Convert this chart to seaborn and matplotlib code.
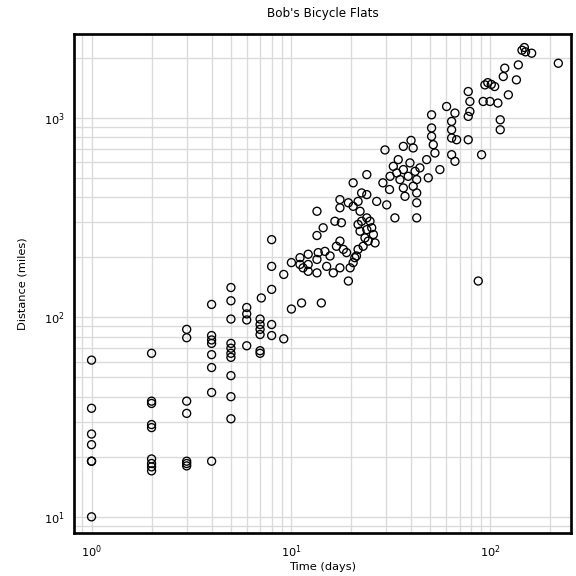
import numpy as np
import pandas as pd
import matplotlib
matplotlib.use("Agg")
import matplotlib.pyplot as plt
import seaborn as sns
from matplotlib.ticker import LogLocator

# ---- data ----
days_small = ([1]*7 + [2]*9 + [3]*7 + [4]*8 + [5]*10 + [6]*4 + [7]*6 + [7.1]
              + [8]*5 + [9.2]*2)
miles_small = ([61, 35, 26, 23, 19, 19, 10]
               + [66, 38, 37, 29, 28, 19.5, 18.5, 17.8, 17]
               + [87, 79, 38, 33, 19, 18.5, 18]
               + [116, 81, 77, 74, 65, 56, 42, 19]
               + [141, 121, 98, 74, 70, 66, 63, 51, 40, 31]
               + [112, 104, 97, 72]
               + [98, 92, 87, 82, 68, 66] + [125]
               + [245, 180, 138, 92, 81]
               + [164, 78])

days_mid = [10.05, 11.3, 14.2,
            10.05, 11.1, 12.2, 11.1, 12.2, 13.5, 13.7, 14.8, 15.7, 16.9, 17.6,
            18.3, 19.0, 13.5, 12.2, 15.1, 16.3, 17.6, 11.5,
            13.5, 14.5, 16.6, 17.9, 13.5, 19.4,
            21.7, 22.6, 24, 24.9, 25.4, 24, 22.2, 25.9, 26.4, 24.4, 23, 21.7,
            21.3, 20.5, 19.8, 20.9, 23.5,
            17.6, 17.6, 19.4, 20.5, 21.7, 22.6, 24, 22.2, 26.9, 30.2, 33.2,
            42.7, 20.5, 24, 28.9, 31.2, 29.6]
miles_mid = [110, 118, 118,
             188, 199, 207, 184, 184, 195, 211, 214, 203, 227, 241,
             219, 211, 167, 170, 180, 167, 177, 177,
             257, 281, 303, 298, 340, 152,
             292, 303, 315, 303, 281, 275, 270, 260, 236, 241, 227, 219,
             203, 188, 177, 199, 250,
             389, 354, 375, 360, 381, 420, 412, 340, 381, 366, 315,
             315, 472, 519, 472, 437, 690]

days_high = [32.6, 34.5, 36.6, 39.5, 41.9, 44.3, 35.2, 36.6, 37.3, 41, 48.8,
             55.8, 47.9, 33.9, 38.7, 42.7, 31.4, 42.7, 42.7,
             36.6, 40, 41, 50.7, 50.7, 50.7, 51.7, 52.7, 60.3, 63.9, 63.9,
             63.9, 66.4, 67.7, 77.4, 63.9, 66.4, 77.4, 78.9, 78.9, 77.4,
             92, 99.5, 109, 112, 112, 90.3, 86.9, 93.8, 97, 101, 105, 123,
             135, 116, 118, 138, 144, 148, 150, 161, 219]
miles_high = [571, 617, 550, 594, 539, 561, 490, 445, 404, 454, 500,
              550, 617, 529, 509, 490, 509, 375, 420,
              719, 770, 706, 1035, 889, 807, 733, 666, 1139, 959, 871,
              792, 1056, 776, 776, 653, 605, 1354, 1207, 1076, 1016,
              1207, 1207, 1185, 977, 871, 653, 152, 1462, 1500, 1470, 1434, 1303,
              1549, 1610, 1773, 1841, 2180, 2250, 2140, 2107, 1876]

df = pd.DataFrame({
    "days": days_small + days_mid + days_high,
    "miles": miles_small + miles_mid + miles_high,
})

# ---- plot ----
sns.set_style("white")
plt.rcParams["font.family"] = ["DejaVu Sans"]
plt.rcParams["text.color"] = "black"
plt.rcParams["axes.labelcolor"] = "black"
plt.rcParams["xtick.color"] = "black"
plt.rcParams["ytick.color"] = "black"

fig = plt.figure(figsize=(6, 6), dpi=96)
ax = fig.add_axes([0.1285, 0.0747, 0.8625, 0.8663])

sns.scatterplot(data=df, x="days", y="miles", ax=ax, marker="o",
                facecolors="none", edgecolor="black", s=36, linewidth=1.0,
                zorder=3)

ax.set_xscale("log")
ax.set_yscale("log")
ax.set_xlim(0.817, 253)
ax.set_ylim(8.3, 2630)

ax.xaxis.set_major_locator(LogLocator(base=10))
ax.yaxis.set_major_locator(LogLocator(base=10))
ax.xaxis.set_minor_locator(LogLocator(base=10, subs=np.arange(2, 10)))
ax.yaxis.set_minor_locator(LogLocator(base=10, subs=np.arange(2, 10)))

ax.grid(True, which="both", color="#dadada", linewidth=1.0, zorder=0)
ax.set_axisbelow(True)

for sp in ax.spines.values():
    sp.set_color("black")
    sp.set_linewidth(2.0)

ax.tick_params(which="both", direction="in", color="black",
               labelcolor="black", labelsize=8.5)
ax.tick_params(axis="x", which="major", pad=8)
ax.tick_params(axis="y", which="major", pad=7)
ax.tick_params(which="major", length=4, width=1)
ax.tick_params(which="minor", length=2.5, width=0.8)

ax.set_title("Bob's Bicycle Flats", fontsize=9, pad=13, color="black")
ax.set_xlabel("Time (days)", fontsize=8.5, labelpad=1, color="black")
ax.set_ylabel("Distance (miles)", fontsize=8.5, labelpad=12, color="black")

fig.savefig("out.png", dpi=96)
